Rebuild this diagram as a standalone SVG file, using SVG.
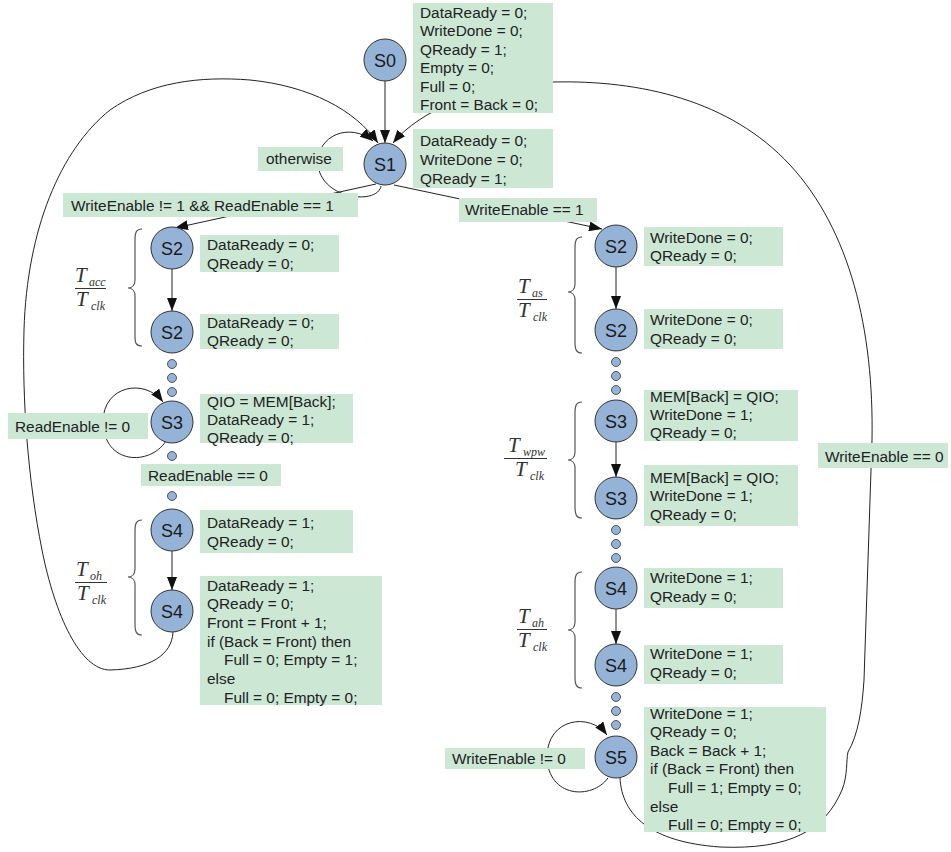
<svg xmlns="http://www.w3.org/2000/svg" width="951" height="852" viewBox="0 0 951 852">
<defs>
<marker id="arr" markerUnits="userSpaceOnUse" markerWidth="13" markerHeight="10" refX="13" refY="5" orient="auto">
<path d="M0,0 L13,5 L0,10 z" fill="#111"/>
</marker>
<style>
.node{fill:#95b3d7;stroke:#333;stroke-width:1}
.nt{font-family:"Liberation Sans",Arial,sans-serif;font-size:18px;fill:#1a1a1a;text-anchor:middle}
.box{fill:#cce8d5}
.bt{font-family:"Liberation Sans",Arial,sans-serif;font-size:15.4px;fill:#222}
.c{fill:none;stroke:#222;stroke-width:1}
.ca{fill:none;stroke:#222;stroke-width:1;marker-end:url(#arr)}
.dot{fill:#95b3d7;stroke:#333;stroke-width:0.8}
.br{fill:none;stroke:#555;stroke-width:1.2}
.T{font-family:"Liberation Serif","Times New Roman",serif;font-style:italic;font-size:21px;fill:#333}
.s{font-family:"Liberation Serif","Times New Roman",serif;font-style:italic;font-size:12px;fill:#333}
.fl{stroke:#333;stroke-width:1}
</style>
</defs>
<rect width="951" height="852" fill="#fff"/>

<g id="connectors">
<path class="ca" d="M385,81 L385,143"/>
<path class="ca" d="M173,632 C172,655 150,669 110,670 C80,670 55,615 42,550 C28,480 22,400 24,330 C27,230 60,150 110,110 C150,82 200,76 250,80 C310,86 355,110 378,143"/>
<path class="ca" d="M620,778 C622,815 650,842 720,847 C790,850 825,830 842,790 C848,775 846,760 848,752 C858,735 862,710 864,680 L872,440 C874,330 850,230 790,165 C730,100 640,80 553,82 C480,85 420,110 393,143"/>
<path class="ca" d="M381,186 C378,205 322,200 318,165 C316,135 350,122 373,141"/>
<path class="ca" d="M376,184 L175,228"/>
<path class="ca" d="M394,185 L602,229"/>
<path class="ca" d="M172,269 L172,311"/>
<path class="ca" d="M172,551 L172,590"/>
<path class="ca" d="M616,267 L616,309"/>
<path class="ca" d="M616,442 L616,477"/>
<path class="ca" d="M616,609 L616,644"/>
<path class="ca" d="M166,441 C150,466 104,465 103,422 C103,385 145,378 163,402"/>
<path class="ca" d="M608,778 C592,800 548,798 547,757 C547,718 590,712 607,735"/>
</g>

<g id="dots">
<circle class="dot" cx="172" cy="364" r="4.5"/>
<circle class="dot" cx="172" cy="378" r="4.5"/>
<circle class="dot" cx="172" cy="392" r="4.5"/>
<circle class="dot" cx="172" cy="456" r="4.5"/>
<circle class="dot" cx="172" cy="496" r="4.5"/>
<circle class="dot" cx="616" cy="362" r="4.5"/>
<circle class="dot" cx="616" cy="376" r="4.5"/>
<circle class="dot" cx="616" cy="390" r="4.5"/>
<circle class="dot" cx="616" cy="530" r="4.5"/>
<circle class="dot" cx="616" cy="544" r="4.5"/>
<circle class="dot" cx="616" cy="558" r="4.5"/>
<circle class="dot" cx="616" cy="697" r="4.5"/>
<circle class="dot" cx="616" cy="711" r="4.5"/>
<circle class="dot" cx="616" cy="725" r="4.5"/>
</g>

<g id="braces">
<path class="br" d="M142,229 C136,229 135,233 135,240 L135,280 C135,285 132,288 128,288 C132,288 135,291 135,296 L135,336 C135,343 136,346 142,346"/>
<path class="br" d="M142,520 C136,520 135,524 135,531 L135,569 C135,574 132,577 128,577 C132,577 135,580 135,585 L135,624 C135,631 136,635 142,635"/>
<path class="br" d="M582,237 C576,237 575,241 575,248 L575,284 C575,289 572,292 568,292 C572,292 575,295 575,300 L575,342 C575,349 576,353 582,353"/>
<path class="br" d="M582,402 C576,402 575,406 575,413 L575,452 C575,457 572,460 568,460 C572,460 575,463 575,468 L575,507 C575,514 576,518 582,518"/>
<path class="br" d="M582,572 C576,572 575,576 575,583 L575,622 C575,627 572,630 568,630 C572,630 575,633 575,638 L575,677 C575,684 576,688 582,688"/>
</g>

<g id="fractions">
<text class="T" x="75" y="282">T</text><text class="s" x="89" y="286">acc</text>
<line class="fl" x1="75" y1="288.5" x2="106" y2="288.5"/>
<text class="T" x="76" y="306">T</text><text class="s" x="91" y="310">clk</text>

<text class="T" x="76" y="576">T</text><text class="s" x="90" y="580">oh</text>
<line class="fl" x1="75" y1="582.5" x2="107" y2="582.5"/>
<text class="T" x="77" y="600">T</text><text class="s" x="92" y="604">clk</text>

<text class="T" x="518" y="293">T</text><text class="s" x="532" y="297">as</text>
<line class="fl" x1="517" y1="299.5" x2="547" y2="299.5"/>
<text class="T" x="518" y="317">T</text><text class="s" x="533" y="321">clk</text>

<text class="T" x="508" y="452">T</text><text class="s" x="523" y="456">wpw</text>
<line class="fl" x1="504" y1="458.5" x2="547" y2="458.5"/>
<text class="T" x="515" y="476">T</text><text class="s" x="530" y="480">clk</text>

<text class="T" x="518" y="623">T</text><text class="s" x="532" y="627">ah</text>
<line class="fl" x1="517" y1="629.5" x2="547" y2="629.5"/>
<text class="T" x="518" y="647">T</text><text class="s" x="533" y="651">clk</text>
</g>

<g id="label-s0">
<rect class="box" x="413" y="3" width="140" height="110"/>
<text class="bt" x="420" y="17.5">DataReady = 0;</text>
<text class="bt" x="420" y="36">WriteDone = 0;</text>
<text class="bt" x="420" y="54.5">QReady = 1;</text>
<text class="bt" x="420" y="73">Empty = 0;</text>
<text class="bt" x="420" y="91.5">Full = 0;</text>
<text class="bt" x="420" y="110">Front = Back = 0;</text>
</g>
<g id="label-s1">
<rect class="box" x="413" y="129" width="140" height="59"/>
<text class="bt" x="420" y="145.5">DataReady = 0;</text>
<text class="bt" x="420" y="164.5">WriteDone = 0;</text>
<text class="bt" x="420" y="183.5">QReady = 1;</text>
</g>
<g id="label-otherwise">
<rect class="box" x="258" y="147" width="85" height="24"/>
<text class="bt" x="266" y="163.5">otherwise</text>
</g>
<g id="label-read-branch">
<rect class="box" x="63" y="193" width="295" height="24"/>
<text class="bt" x="71" y="211">WriteEnable != 1 &amp;&amp; ReadEnable == 1</text>
</g>
<g id="label-write-branch">
<rect class="box" x="459" y="198" width="138" height="24"/>
<text class="bt" x="465" y="215">WriteEnable == 1</text>
</g>

<g id="label-l-s2a">
<rect class="box" x="200" y="235" width="139" height="37"/>
<text class="bt" x="207" y="249.5">DataReady = 0;</text>
<text class="bt" x="207" y="268.5">QReady = 0;</text>
</g>
<g id="label-l-s2b">
<rect class="box" x="200" y="314" width="139" height="35"/>
<text class="bt" x="207" y="327.5">DataReady = 0;</text>
<text class="bt" x="207" y="345.5">QReady = 0;</text>
</g>
<g id="label-l-s3">
<rect class="box" x="200" y="394" width="153" height="49"/>
<text class="bt" x="207" y="406.5">QIO = MEM[Back];</text>
<text class="bt" x="207" y="424.5">DataReady = 1;</text>
<text class="bt" x="207" y="442.5">QReady = 0;</text>
</g>
<g id="label-readenable-ne0">
<rect class="box" x="8" y="413" width="140" height="26"/>
<text class="bt" x="15" y="431.5">ReadEnable != 0</text>
</g>
<g id="label-readenable-eq0">
<rect class="box" x="141" y="464" width="140" height="22"/>
<text class="bt" x="148" y="480.5">ReadEnable == 0</text>
</g>
<g id="label-l-s4a">
<rect class="box" x="200" y="510" width="153" height="43"/>
<text class="bt" x="207" y="527.5">DataReady = 1;</text>
<text class="bt" x="207" y="546.5">QReady = 0;</text>
</g>
<g id="label-l-s4b">
<rect class="box" x="200" y="576" width="182" height="129"/>
<text class="bt" x="207" y="590.5">DataReady = 1;</text>
<text class="bt" x="207" y="609.2">QReady = 0;</text>
<text class="bt" x="207" y="627.8">Front = Front + 1;</text>
<text class="bt" x="207" y="646.5">if (Back = Front) then</text>
<text class="bt" x="224" y="665.2">Full = 0; Empty = 1;</text>
<text class="bt" x="207" y="683.8">else</text>
<text class="bt" x="224" y="702.5">Full = 0; Empty = 0;</text>
</g>

<g id="label-r-s2a">
<rect class="box" x="644" y="227" width="139" height="39"/>
<text class="bt" x="650" y="242.5">WriteDone = 0;</text>
<text class="bt" x="650" y="260.5">QReady = 0;</text>
</g>
<g id="label-r-s2b">
<rect class="box" x="644" y="309" width="139" height="40"/>
<text class="bt" x="650" y="324.5">WriteDone = 0;</text>
<text class="bt" x="650" y="343.5">QReady = 0;</text>
</g>
<g id="label-r-s3a">
<rect class="box" x="644" y="390" width="154" height="51"/>
<text class="bt" x="650" y="401.5">MEM[Back] = QIO;</text>
<text class="bt" x="650" y="419.5">WriteDone = 1;</text>
<text class="bt" x="650" y="438">QReady = 0;</text>
</g>
<g id="label-r-s3b">
<rect class="box" x="644" y="465" width="154" height="61"/>
<text class="bt" x="650" y="482.5">MEM[Back] = QIO;</text>
<text class="bt" x="650" y="501">WriteDone = 1;</text>
<text class="bt" x="650" y="520">QReady = 0;</text>
</g>
<g id="label-r-s4a">
<rect class="box" x="644" y="568" width="139" height="40"/>
<text class="bt" x="650" y="583">WriteDone = 1;</text>
<text class="bt" x="650" y="602">QReady = 0;</text>
</g>
<g id="label-r-s4b">
<rect class="box" x="644" y="645" width="139" height="39"/>
<text class="bt" x="650" y="659">WriteDone = 1;</text>
<text class="bt" x="650" y="677.5">QReady = 0;</text>
</g>
<g id="label-r-s5">
<rect class="box" x="644" y="707" width="182" height="125"/>
<text class="bt" x="650" y="718.5">WriteDone = 1;</text>
<text class="bt" x="650" y="737.1">QReady = 0;</text>
<text class="bt" x="650" y="755.7">Back = Back + 1;</text>
<text class="bt" x="650" y="774.3">if (Back = Front) then</text>
<text class="bt" x="668" y="792.9">Full = 1; Empty = 0;</text>
<text class="bt" x="650" y="811.5">else</text>
<text class="bt" x="668" y="830">Full = 0; Empty = 0;</text>
</g>
<g id="label-writeenable-ne0">
<rect class="box" x="445" y="748" width="140" height="21"/>
<text class="bt" x="452" y="763.5">WriteEnable != 0</text>
</g>
<g id="label-writeenable-eq0">
<rect class="box" x="818" y="443" width="130" height="25"/>
<text class="bt" x="825" y="461.5">WriteEnable == 0</text>
</g>

<g id="node-S0"><circle class="node" cx="385" cy="60" r="21"/><text class="nt" x="385" y="66.5">S0</text></g>
<g id="node-S1"><circle class="node" cx="385" cy="164" r="21"/><text class="nt" x="385" y="170.5">S1</text></g>
<g id="node-L-S2a"><circle class="node" cx="172" cy="248" r="21"/><text class="nt" x="172" y="254.5">S2</text></g>
<g id="node-L-S2b"><circle class="node" cx="172" cy="332" r="21"/><text class="nt" x="172" y="338.5">S2</text></g>
<g id="node-L-S3"><circle class="node" cx="172" cy="422" r="21"/><text class="nt" x="172" y="428.5">S3</text></g>
<g id="node-L-S4a"><circle class="node" cx="172" cy="530" r="21"/><text class="nt" x="172" y="536.5">S4</text></g>
<g id="node-L-S4b"><circle class="node" cx="172" cy="611" r="21"/><text class="nt" x="172" y="617.5">S4</text></g>
<g id="node-R-S2a"><circle class="node" cx="616" cy="246" r="21"/><text class="nt" x="616" y="252.5">S2</text></g>
<g id="node-R-S2b"><circle class="node" cx="616" cy="330" r="21"/><text class="nt" x="616" y="336.5">S2</text></g>
<g id="node-R-S3a"><circle class="node" cx="616" cy="421" r="21"/><text class="nt" x="616" y="427.5">S3</text></g>
<g id="node-R-S3b"><circle class="node" cx="616" cy="498" r="21"/><text class="nt" x="616" y="504.5">S3</text></g>
<g id="node-R-S4a"><circle class="node" cx="616" cy="588" r="21"/><text class="nt" x="616" y="594.5">S4</text></g>
<g id="node-R-S4b"><circle class="node" cx="616" cy="665" r="21"/><text class="nt" x="616" y="671.5">S4</text></g>
<g id="node-S5"><circle class="node" cx="616" cy="757" r="21"/><text class="nt" x="616" y="763.5">S5</text></g>
</svg>
